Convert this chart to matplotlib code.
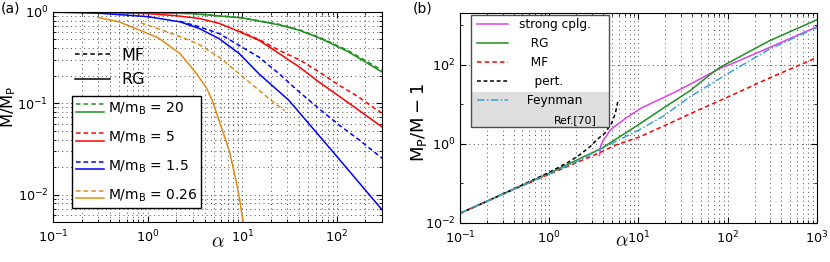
import matplotlib
matplotlib.use('Agg')
import matplotlib.pyplot as plt
from matplotlib.lines import Line2D
from matplotlib.legend_handler import HandlerBase
from matplotlib.patches import Rectangle
from matplotlib.ticker import FixedLocator, NullFormatter

plt.rcParams['font.family'] = ['DejaVu Sans']
plt.rcParams['mathtext.fontset'] = 'dejavusans'

# ---------------- panel (a) data: M/M_P vs alpha ----------------
a_rg20 = [0.1, 0.3, 1, 3, 10, 25, 40, 65, 130, 300]
rg20 = [1.0, 0.995, 0.985, 0.96, 0.86, 0.72, 0.63, 0.52, 0.37, 0.22]
a_mf20 = [1, 3, 10, 25, 40, 65, 130, 300]
mf20 = [0.985, 0.96, 0.865, 0.73, 0.64, 0.53, 0.38, 0.23]

a_rg5 = [0.1, 0.3, 1, 2, 3.5, 5.7, 9.3, 15, 24.6, 40, 65, 105, 170, 300]
rg5 = [1.0, 0.99, 0.96, 0.91, 0.85, 0.75, 0.61, 0.49, 0.35, 0.25, 0.17, 0.12, 0.084, 0.055]
a_mf5 = [9.3, 15, 24.6, 40, 65, 105, 170, 250, 300]
mf5 = [0.62, 0.50, 0.38, 0.30, 0.22, 0.158, 0.117, 0.088, 0.078]

a_rg15 = [0.1, 0.3, 1, 2.2, 3.5, 5.7, 9.3, 15, 31, 88, 300]
rg15 = [0.995, 0.97, 0.89, 0.78, 0.66, 0.51, 0.35, 0.21, 0.108, 0.0305, 0.0068]
a_mf15 = [2.2, 3.5, 5.7, 9.3, 15, 24.6, 40, 65, 105, 170, 300]
mf15 = [0.79, 0.69, 0.58, 0.43, 0.32, 0.21, 0.133, 0.087, 0.058, 0.04, 0.025]

a_rg026 = [0.3, 0.5, 0.8, 1.3, 2.2, 3.3, 4.2, 4.8, 6, 7.3, 8.5, 9.3, 10.2]
rg026 = [0.87, 0.78, 0.64, 0.52, 0.35, 0.21, 0.146, 0.108, 0.055, 0.030, 0.015, 0.0093, 0.005]
a_mf026 = [0.85, 1.5, 2.5, 3.5, 5.7, 9.3, 15, 22, 28]
mf026 = [0.76, 0.62, 0.51, 0.44, 0.32, 0.21, 0.139, 0.10, 0.083]

ratio_labels = ['20', '5', '1.5', '0.26']
colors_a = ['#1f8f1f', '#ff0000', '#0000ff', '#e08c14']

# ---------------- panel (b) data: M_P/M - 1 vs alpha ----------------
a_strong = [3.65, 3.75, 4.0, 4.4, 4.8, 5.7, 7.4, 10.4, 12.4, 20.7, 26.7, 38, 82, 106, 295, 1000]
strong = [0.5, 0.85, 1.2, 1.6, 2.2, 3.0, 4.6, 7.6, 9.3, 16, 21, 32, 80, 100, 270, 900]

a_rgb = [0.1, 0.3, 1, 2, 3.9, 6, 10.4, 20, 38, 63, 82, 100, 295, 1000]
rgb = [0.0175, 0.054, 0.18, 0.38, 0.78, 1.45, 3.2, 8.6, 22, 55, 85, 108, 400, 1350]

a_mfb = [0.1, 0.3, 1, 2, 3.7, 5.7, 10.4, 29, 43, 106, 295, 1000]
mfb = [0.0175, 0.053, 0.17, 0.33, 0.6, 0.95, 1.5, 4.3, 6.5, 16, 46, 150]

a_pert = [0.1, 0.2, 0.4, 0.7, 1.0, 1.3, 1.7, 2.2, 2.9, 3.4, 4.2, 5.0, 5.5, 5.8, 5.95]
pert = [0.0175, 0.035, 0.072, 0.13, 0.19, 0.26, 0.36, 0.53, 0.86, 1.26, 1.85, 3.3, 5.8, 10.4, 12.6]

a_feyn = [0.1, 0.3, 1, 2, 3.7, 10.4, 19, 38, 106, 295, 1000]
feyn = [0.0175, 0.053, 0.175, 0.35, 0.72, 2.3, 5.0, 15.5, 64, 245, 865]


class StackHandler(HandlerBase):
    def create_artists(self, legend, orig_handle, xdescent, ydescent,
                       width, height, fontsize, trans):
        top, bot = orig_handle
        x0, x1 = -xdescent, -xdescent + width
        yt = -ydescent + height * 0.9
        yb = -ydescent + height * 0.1
        l1 = Line2D([x0, x1], [yt, yt], color=top.get_color(), lw=top.get_linewidth())
        l1.set_dashes((3, 2))
        l2 = Line2D([x0, x1], [yb, yb], color=bot.get_color(), lw=bot.get_linewidth())
        l1.set_transform(trans)
        l2.set_transform(trans)
        return [l1, l2]


fig = plt.figure(figsize=(8.3, 2.62), dpi=100)
axA = fig.add_axes([0.0639, 0.1527, 0.3964, 0.8015])
axB = fig.add_axes([0.5542, 0.1489, 0.4301, 0.8015])

lw = 1.1
dash = (3, 2)
gridkw = dict(ls=(0, (1, 3.5)), color='0.3', lw=0.7)
tsize = 9.2

# panel (a)
series = [(a_mf20, mf20, a_rg20, rg20), (a_mf5, mf5, a_rg5, rg5),
          (a_mf15, mf15, a_rg15, rg15), (a_mf026, mf026, a_rg026, rg026)]
pairs = []
for (am, m, ar, r), c in zip(series, colors_a):
    lm, = axA.plot(am, m, color=c, lw=lw, dashes=dash)
    lr, = axA.plot(ar, r, color=c, lw=lw)
    pairs.append((lm, lr))

axA.set_xscale('log')
axA.set_yscale('log')
axA.set_xlim(0.1, 300)
axA.set_ylim(0.005, 1)
axA.grid(True, which='both', **gridkw)
axA.tick_params(which='both', direction='in', top=True, right=True, labelsize=tsize)
axA.tick_params(axis='x', which='major', pad=4.5)
axA.tick_params(which='major', length=4)
axA.tick_params(which='minor', length=2)
axA.set_ylabel(r'$\mathrm{M/M_P}$', fontsize=11.8)
axA.yaxis.set_label_coords(-0.106, 0.55)
axA.set_xlabel(r'$\alpha$', fontsize=14, math_fontfamily='cm', labelpad=-9)

hmf = Line2D([], [], color='k', lw=lw, dashes=dash)
hrg = Line2D([], [], color='k', lw=lw)
legA = axA.legend([hmf, hrg], ['MF', 'RG'], loc='upper left',
                  bbox_to_anchor=(0.067, 0.83), frameon=False, fontsize=11.5,
                  handlelength=2.2, handletextpad=0.7, labelspacing=0.6,
                  borderpad=0, borderaxespad=0)
axA.add_artist(legA)
legA2 = axA.legend(pairs, [r'$\mathrm{M/m_B}$ = ' + s for s in ratio_labels],
                   handler_map={tuple: StackHandler()},
                   loc='lower left', bbox_to_anchor=(0.058, 0.067),
                   fontsize=10, handlelength=2.0, handletextpad=0.3,
                   labelspacing=0.9, borderpad=0.3, borderaxespad=0,
                   fancybox=False, edgecolor='black', framealpha=1)
legA2.get_frame().set_linewidth(1.0)

# panel (b)
ls_, = axB.plot(a_strong, strong, color='#e040e8', lw=lw)
lg_, = axB.plot(a_rgb, rgb, color='#1f8f1f', lw=lw)
lm_, = axB.plot(a_mfb, mfb, color='#ff0000', lw=lw, dashes=dash)
lp_, = axB.plot(a_pert, pert, color='k', lw=lw, dashes=(2.5, 1.8))
lf_, = axB.plot(a_feyn, feyn, color='#3aa3d4', lw=lw, dashes=(5, 1.5, 1, 1.5))

axB.set_xscale('log')
axB.set_yscale('log')
axB.set_xlim(0.1, 1000)
axB.set_ylim(0.01, 2000)
axB.yaxis.set_major_locator(FixedLocator([1e-2, 1, 1e2]))
axB.yaxis.set_minor_locator(FixedLocator([1e-1, 10, 1e3]))
axB.yaxis.set_minor_formatter(NullFormatter())
axB.grid(True, which='both', axis='x', **gridkw)
axB.grid(True, which='major', axis='y', **gridkw)
axB.tick_params(which='both', direction='in', top=True, right=True, labelsize=tsize)
axB.tick_params(axis='x', which='major', pad=4.5)
axB.tick_params(which='major', length=4)
axB.tick_params(which='minor', length=2)
axB.set_ylabel(r'$\mathrm{M_P/M - 1}$', fontsize=13)
axB.yaxis.set_label_coords(-0.088, 0.48)
axB.set_xlabel(r'$\alpha$', fontsize=14, math_fontfamily='cm', labelpad=-9)
axB.xaxis.set_label_coords(0.452, -0.04)
axB.xaxis.label.set_va('top')

boxx, boxy, boxw, boxh = 0.031, 0.457, 0.386, 0.533
axB.add_patch(Rectangle((boxx, boxy), boxw, boxh, transform=axB.transAxes,
                        facecolor='white', edgecolor='none', zorder=5))
axB.add_patch(Rectangle((boxx, boxy), boxw, 0.167, transform=axB.transAxes,
                        facecolor='#dedede', edgecolor='none', zorder=5.1))
axB.add_patch(Rectangle((boxx, boxy), boxw, boxh, transform=axB.transAxes,
                        facecolor='none', edgecolor='0.3', lw=1.0, zorder=5.2))
legB = axB.legend([ls_, lg_, lm_, lp_, lf_],
                  ['strong cplg.', '   RG', '   MF', '    pert.', '  Feynman'],
                  loc='upper left', bbox_to_anchor=(0.0468, 0.975), frameon=False,
                  fontsize=8.7, handlelength=2.6, handletextpad=0.9,
                  labelspacing=0.5, borderpad=0, borderaxespad=0)
legB.set_zorder(6)
axB.text(0.263, 0.49, 'Ref.[70]', transform=axB.transAxes, fontsize=7.8,
         va='center', ha='left', zorder=7)

fig.text(0.001, 0.995, '(a)', fontsize=10, va='top', ha='left')
fig.text(0.4976, 0.995, '(b)', fontsize=10, va='top', ha='left')

fig.savefig('out.png', dpi=100)
